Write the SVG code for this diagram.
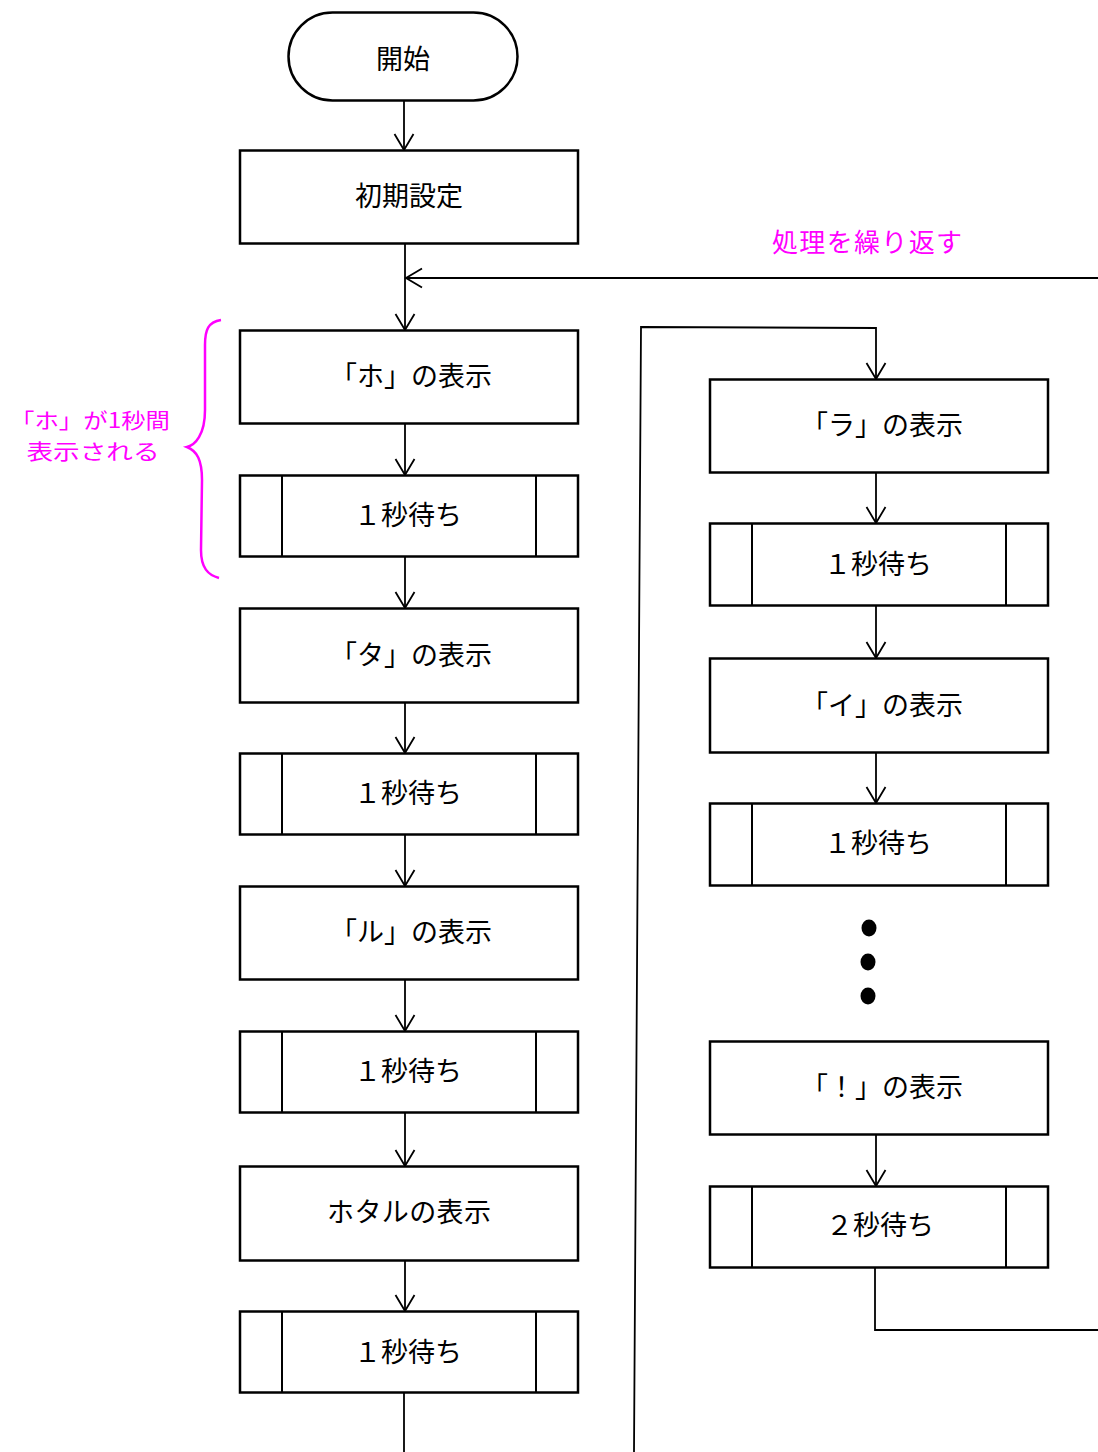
<svg xmlns="http://www.w3.org/2000/svg" width="1098" height="1452" viewBox="0 0 1098 1452">
<style>
.box{fill:#fff;stroke:#000;stroke-width:2.5}
.sub{fill:none;stroke:#000;stroke-width:2}
.t{font-family:"Noto Sans CJK JP","Noto Sans CJK SC",sans-serif;font-size:27px;fill:#000;text-anchor:middle}
.p{font-family:"Noto Sans CJK JP","Noto Sans CJK SC",sans-serif;font-size:26px;fill:#ff00ff;text-anchor:middle}
.n{font-family:"Noto Sans CJK JP","Noto Sans CJK SC",sans-serif;font-size:21px;fill:#ff00ff;text-anchor:middle}
.c{fill:none;stroke:#000;stroke-width:1.8}
.ca{fill:none;stroke:#000;stroke-width:1.8;marker-end:url(#ah)}
</style>
<defs>
<marker id="ah" viewBox="-18 -11 20 22" refX="0" refY="0" markerWidth="20" markerHeight="22" markerUnits="userSpaceOnUse" orient="auto" overflow="visible">
<path d="M-16,-9.5 L0,0 L-16,9.5" fill="none" stroke="#000" stroke-width="1.8"/>
</marker>
</defs>
<rect width="1098" height="1452" fill="#fff"/>
<g id="connectors">
<line class="ca" x1="404" y1="100" x2="404" y2="150"/>
<line class="ca" x1="405" y1="243" x2="405" y2="330"/>
<line class="ca" x1="1098" y1="278" x2="406" y2="278"/>
<line class="ca" x1="405" y1="423" x2="405" y2="475"/>
<line class="ca" x1="405" y1="556" x2="405" y2="608"/>
<line class="ca" x1="405" y1="702" x2="405" y2="753"/>
<line class="ca" x1="405" y1="834" x2="405" y2="886"/>
<line class="ca" x1="405" y1="979" x2="405" y2="1031"/>
<line class="ca" x1="405" y1="1112" x2="405" y2="1166"/>
<line class="ca" x1="405" y1="1260" x2="405" y2="1311"/>
<line class="c" x1="404" y1="1392" x2="404" y2="1452" stroke-width="2.2"/>
<polyline class="ca" points="634,1452 641,327 876,328 876,379"/>
<line class="ca" x1="876" y1="472" x2="876" y2="523"/>
<line class="ca" x1="876" y1="605" x2="876" y2="658"/>
<line class="ca" x1="876" y1="752" x2="876" y2="803"/>
<line class="ca" x1="876" y1="1134" x2="876" y2="1186"/>
<polyline class="c" points="875,1267 875,1330 1098,1330" stroke-width="2.8"/>
</g>
<g id="start">
<rect class="box" x="288.5" y="12.5" width="229" height="88" rx="44" ry="44"/>
<text class="t" x="403" y="69">開始</text>
</g>
<g id="init">
<rect class="box" x="240" y="150.5" width="338" height="93"/>
<text class="t" x="409" y="206">初期設定</text>
</g>
<g id="ho">
<rect class="box" x="240" y="330.5" width="338" height="93"/>
<text class="t" x="411" y="386" textLength="162" lengthAdjust="spacing">「ホ」の表示</text>
</g>
<g id="w1">
<rect class="box" x="240" y="475.5" width="338" height="81"/>
<line class="sub" x1="282" y1="475.5" x2="282" y2="556.5"/>
<line class="sub" x1="536" y1="475.5" x2="536" y2="556.5"/>
<text class="t" x="408" y="525">１秒待ち</text>
</g>
<g id="ta">
<rect class="box" x="240" y="608.5" width="338" height="94"/>
<text class="t" x="411" y="665" textLength="162" lengthAdjust="spacing">「タ」の表示</text>
</g>
<g id="w2">
<rect class="box" x="240" y="753.5" width="338" height="81"/>
<line class="sub" x1="282" y1="753.5" x2="282" y2="834.5"/>
<line class="sub" x1="536" y1="753.5" x2="536" y2="834.5"/>
<text class="t" x="408" y="803">１秒待ち</text>
</g>
<g id="ru">
<rect class="box" x="240" y="886.5" width="338" height="93"/>
<text class="t" x="411" y="942" textLength="162" lengthAdjust="spacing">「ル」の表示</text>
</g>
<g id="w3">
<rect class="box" x="240" y="1031.5" width="338" height="81"/>
<line class="sub" x1="282" y1="1031.5" x2="282" y2="1112.5"/>
<line class="sub" x1="536" y1="1031.5" x2="536" y2="1112.5"/>
<text class="t" x="408" y="1081">１秒待ち</text>
</g>
<g id="hotaru">
<rect class="box" x="240" y="1166.5" width="338" height="94"/>
<text class="t" x="409" y="1222" textLength="164" lengthAdjust="spacing">ホタルの表示</text>
</g>
<g id="w4">
<rect class="box" x="240" y="1311.5" width="338" height="81"/>
<line class="sub" x1="282" y1="1311.5" x2="282" y2="1392.5"/>
<line class="sub" x1="536" y1="1311.5" x2="536" y2="1392.5"/>
<text class="t" x="408" y="1362">１秒待ち</text>
</g>
<g id="ra">
<rect class="box" x="710" y="379.5" width="338" height="93"/>
<text class="t" x="882" y="435" textLength="162" lengthAdjust="spacing">「ラ」の表示</text>
</g>
<g id="w5">
<rect class="box" x="710" y="523.5" width="338" height="82"/>
<line class="sub" x1="752" y1="523.5" x2="752" y2="605.5"/>
<line class="sub" x1="1006" y1="523.5" x2="1006" y2="605.5"/>
<text class="t" x="878" y="574">１秒待ち</text>
</g>
<g id="i">
<rect class="box" x="710" y="658.5" width="338" height="94"/>
<text class="t" x="882" y="715" textLength="162" lengthAdjust="spacing">「イ」の表示</text>
</g>
<g id="w6">
<rect class="box" x="710" y="803.5" width="338" height="82"/>
<line class="sub" x1="752" y1="803.5" x2="752" y2="885.5"/>
<line class="sub" x1="1006" y1="803.5" x2="1006" y2="885.5"/>
<text class="t" x="878" y="853">１秒待ち</text>
</g>
<g id="dots">
<ellipse cx="869" cy="928" rx="7.5" ry="8.5"/>
<ellipse cx="868" cy="962" rx="7.5" ry="8.5"/>
<ellipse cx="868" cy="996" rx="7.5" ry="8.5"/>
</g>
<g id="excl">
<rect class="box" x="710" y="1041.5" width="338" height="93"/>
<text class="t" x="882" y="1097" textLength="162" lengthAdjust="spacing">「！」の表示</text>
</g>
<g id="w7">
<rect class="box" x="710" y="1186.5" width="338" height="81"/>
<line class="sub" x1="752" y1="1186.5" x2="752" y2="1267.5"/>
<line class="sub" x1="1006" y1="1186.5" x2="1006" y2="1267.5"/>
<text class="t" x="880" y="1235">２秒待ち</text>
</g>
<g id="loop-label">
<text class="p" x="867" y="252" textLength="190" lengthAdjust="spacing">処理を繰り返す</text>
</g>
<g id="brace-note">
<path d="M221,320 C208,322 205,330 205,345 L205,410 C205,435 195,445 187,447 C197,451 202,460 202,480 L201,550 C201,568 208,575 219,578" fill="none" stroke="#ff00ff" stroke-width="2.5"/>
<text class="n" x="90" y="428" textLength="160" lengthAdjust="spacingAndGlyphs">「ホ」が1秒間</text>
<text class="n" x="93" y="459" textLength="133" lengthAdjust="spacingAndGlyphs">表示される</text>
</g>
</svg>
